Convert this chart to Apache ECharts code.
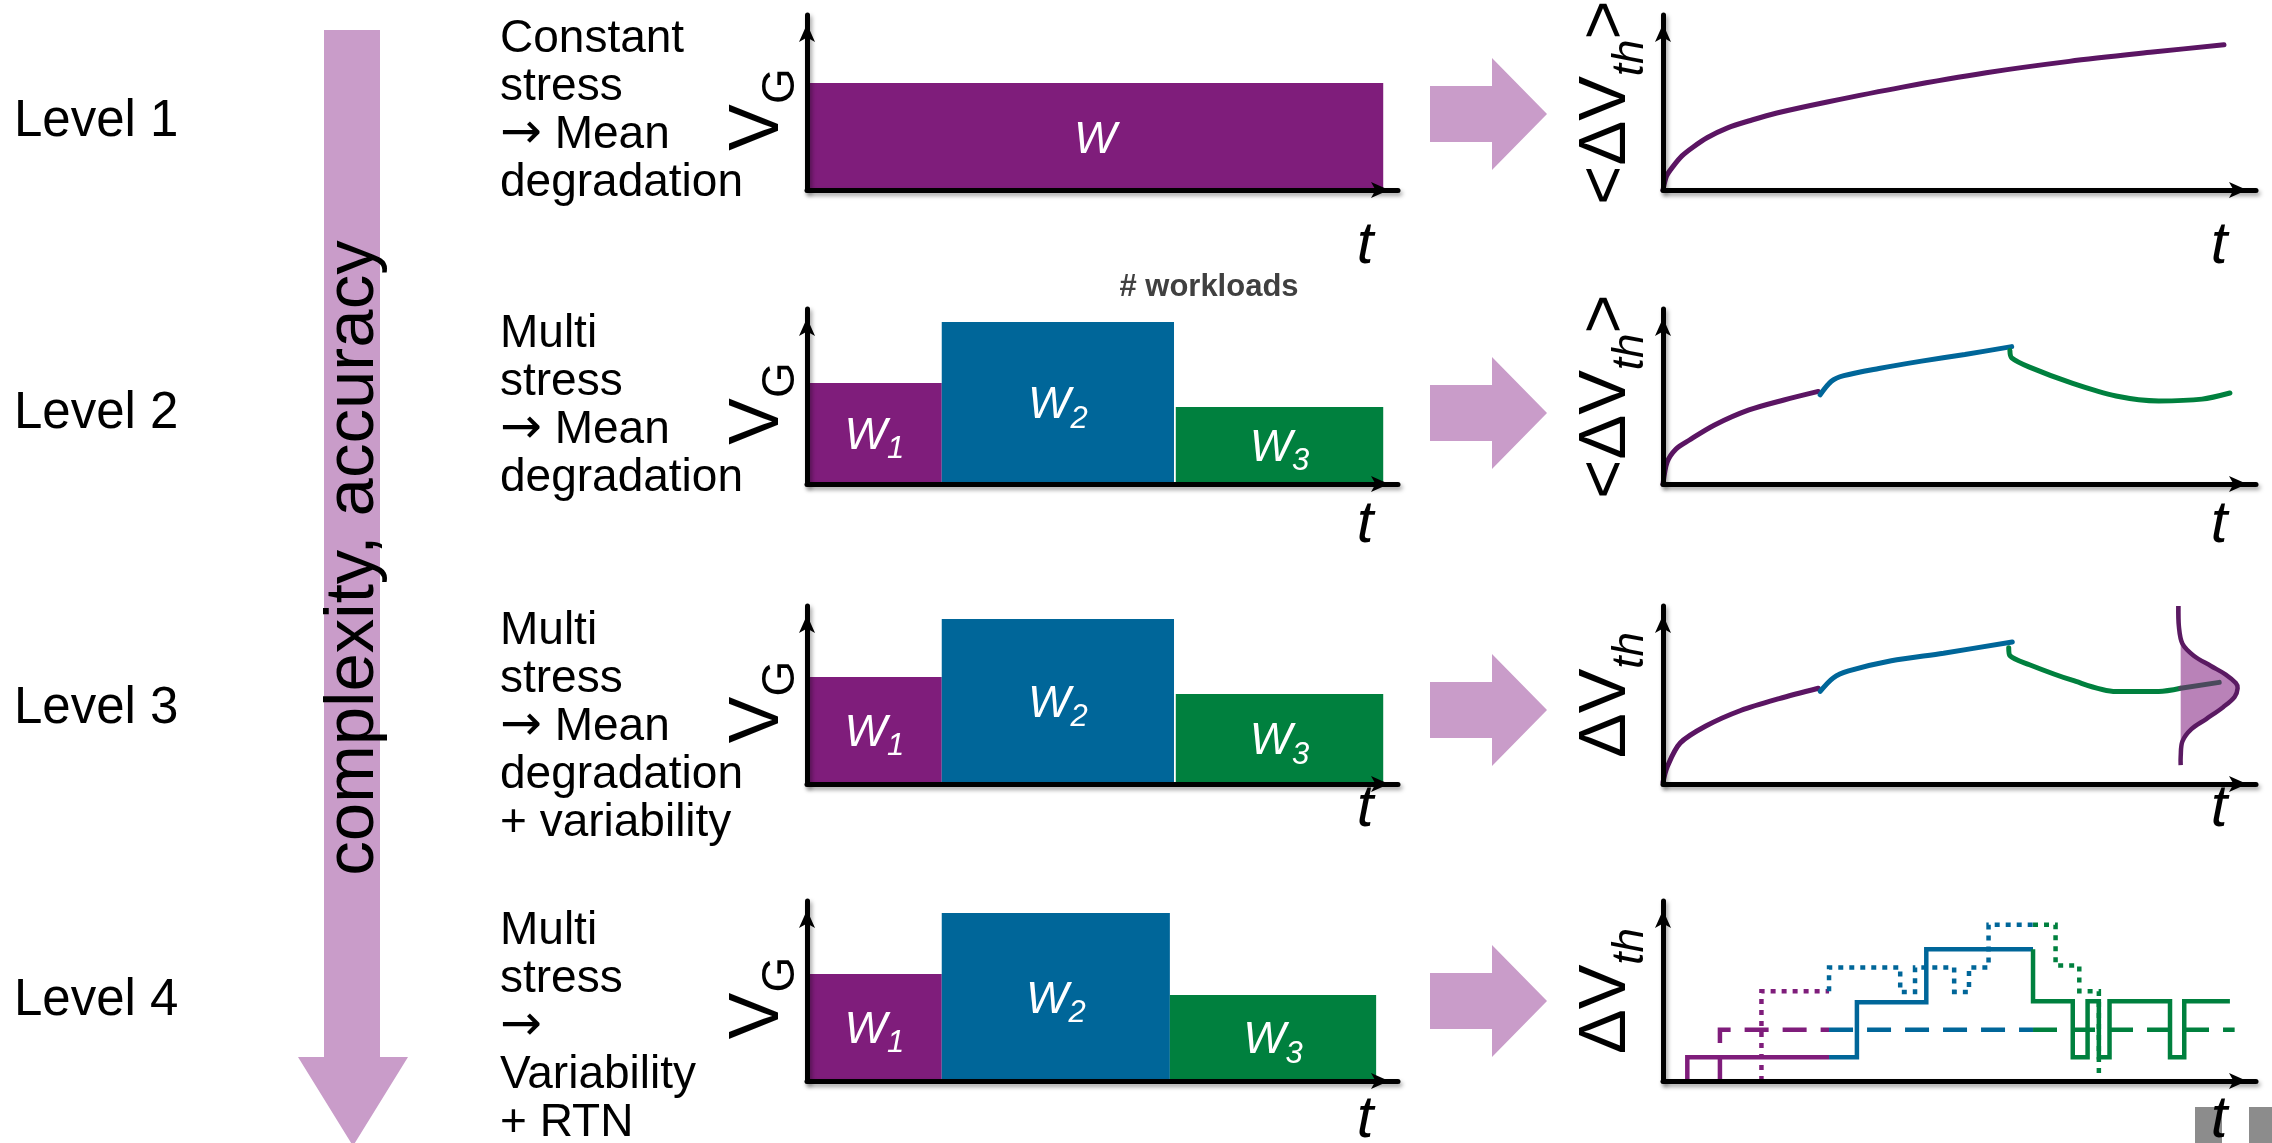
<!DOCTYPE html>
<html>
<head>
<meta charset="utf-8">
<script src="https://cdn.jsdelivr.net/npm/echarts@6/dist/echarts.min.js"></script>
<style>
html,body{margin:0;padding:0;background:#fff;}
#c{width:2272px;height:1143px;}
</style>
</head>
<body>
<div id="c"></div>
<script>
// ---------------- data ----------------
const levelLabels = ['Level 1', 'Level 2', 'Level 3', 'Level 4'];
const levelTexts = [
  ['Constant', 'stress', '\u2192 Mean', 'degradation'],
  ['Multi', 'stress', '\u2192 Mean', 'degradation'],
  ['Multi', 'stress', '\u2192 Mean', 'degradation', '+ variability'],
  ['Multi', 'stress', '\u2192', 'Variability', '+ RTN']
];
const sideLabel = 'complexity, accuracy';
const workloadNote = '# workloads';
const timeLabel = 't';

// workload stress blocks: [t start, t end, V_G]  (axis units 0..100)
const stressL1 = [[0, 97.5, 61.1]];
const stressL2 = [[0, 22.8, 57.7], [22.8, 62.1, 92.6], [62.4, 97.5, 44.0]];
const stressL3 = [[0, 22.8, 60.1], [22.8, 62.1, 92.7], [62.4, 97.5, 50.6]];
const stressL4 = [[0, 22.8, 59.4], [22.8, 61.4, 93.3], [61.4, 96.3, 47.8]];
const workloadNamesL1 = [['W', '']];
const workloadNames = [['W', '1'], ['W', '2'], ['W', '3']];

// mean degradation curves [t, dVth]
const meanL1 = [[0, 0], [0.6, 8], [1.7, 13.5], [3.2, 19.5], [5.1, 24.6], [7.5, 30], [10.8, 35.4], [15, 40], [19.2, 44], [27.7, 50.3], [40.4, 58.8], [54.5, 67], [68.5, 73.5], [82.6, 78.8], [94.6, 83]];
const meanL2w1 = [[0, 0], [0.7, 12.5], [2.2, 20], [4.4, 25], [8.7, 33.7], [14.5, 42.3], [20.4, 48], [26.2, 52.9]];
const meanL2w2 = [[26.5, 51], [28.4, 58.7], [30.5, 61.9], [36.4, 66], [43.6, 70.2], [50.9, 74], [58.8, 78.5]];
const meanL2w3 = [[58.5, 76.3], [58.8, 72.1], [61.8, 66.8], [69.1, 57.5], [76.4, 50.3], [83.6, 47.5], [90.9, 48.5], [95.6, 52]];
const meanL3w1 = [[0, 1], [0.7, 9.6], [2.9, 23], [7.3, 32.7], [13.1, 41.3], [19.6, 48], [26.2, 53.8]];
const meanL3w2 = [[26.5, 52], [28.7, 59.6], [31.3, 63.5], [38.5, 69.2], [47.3, 73.5], [58.9, 79.8]];
const meanL3w3 = [[58.3, 76.5], [58.5, 72.1], [61.8, 67], [69, 58.3], [76.4, 52], [83.6, 52], [87.3, 53.8]];
const meanL3tail = [[87.3, 53.8], [93.8, 57.1]];
// variability distribution outline [t, dVth]
const distBaseT = 87.3;
const distOutline = [[86.9, 100], [87.0, 88.5], [87.6, 78.8], [89.5, 72.1], [92.4, 66.3], [94.9, 61.5], [96.6, 56.7], [96.9, 53.8], [96.4, 49], [94.5, 43.3], [91.6, 36.5], [89.1, 30.8], [87.6, 24], [87.3, 15.4], [87.3, 10.6]];

// RTN / variability traces, step breakpoints [t, dVth]
const solidW1 = [[4.1, 0], [4.1, 13.2], [28, 13.2]];
const solidW2 = [[28, 13.2], [32.7, 43.7], [44.4, 73.2], [62.4, 73.2]];
const solidW3 = [[62.4, 73.2], [62.4, 44.3], [69.1, 13.2], [71.6, 44.3], [73.5, 13.2], [75.3, 44.3], [85.5, 13.2], [87.9, 44.3], [95.6, 44.3]];
const dashW1 = [[9.6, 0], [9.6, 28.5], [28, 28.5]];
const dashW2 = [[28, 28.5], [62.4, 28.5]];
const dashW3 = [[62.4, 28.5], [96.4, 28.5]];
const dotW1 = [[16.6, 0], [16.6, 49.9], [28, 49.9]];
const dotW2 = [[28, 49.9], [28, 63.1], [40, 49.5], [42.5, 63.1], [49.1, 49.5], [51.6, 63.1], [54.9, 86.8], [62.4, 86.8]];
const dotW3 = [[62.4, 86.8], [66.2, 64.1], [70.2, 49.9], [73.5, 0], [73.5, 0]];

// ---------------- styles ----------------
const FONT = '"Liberation Sans", Arial, Helvetica, sans-serif';
const PURPLE = '#7f1d7b', BLUE = '#006699', GREEN = '#00803e', CURVE_PURPLE = '#5b1563';
const PINK = '#c99cc9';
const stressColors = [PURPLE, BLUE, GREEN];

const rowBoxes = [
  { top: 15, bottom: 190 },
  { top: 309, bottom: 484 },
  { top: 606, bottom: 784 },
  { top: 901, bottom: 1081 }
];
const LEFT_X0 = 807, LEFT_X1 = 1398, RIGHT_X0 = 1663, RIGHT_X1 = 2256;

const grids = [], xAxes = [], yAxes = [], series = [];

function axisLine() {
  return {
    show: true, onZero: false,
    symbol: ['none', 'arrow'], symbolSize: [12, 18], symbolOffset: [0, -9],
    lineStyle: { color: '#000', width: 5, shadowColor: 'rgba(0,0,0,0.35)', shadowBlur: 4, shadowOffsetX: 2, shadowOffsetY: 3 }
  };
}

function addPanel(x0, x1, box, yName, yRich, namePad) {
  const gi = grids.length;
  grids.push({ left: x0, top: box.top, width: x1 - x0, height: box.bottom - box.top, containLabel: false, outerBoundsMode: 'none', show: false });
  xAxes.push({ gridIndex: gi, type: 'value', min: 0, max: 100, z: 10,
    axisLine: axisLine(), axisTick: { show: false }, axisLabel: { show: false }, splitLine: { show: false } });
  yAxes.push({ gridIndex: gi, type: 'value', min: 0, max: 100, z: 10,
    axisLine: axisLine(), axisTick: { show: false }, axisLabel: { show: false }, splitLine: { show: false },
    name: yName, nameLocation: 'middle', nameRotate: 90, nameGap: namePad.gap,
    nameTextStyle: { padding: namePad.padding, rich: yRich } });
  return gi;
}

const vgRich = {
  v: { fontSize: 70, fontFamily: FONT, color: '#000', lineHeight: 70, padding: [0, 0, 10, 0], verticalAlign: 'bottom' },
  s: { fontSize: 46, fontFamily: FONT, color: '#000', lineHeight: 46, verticalAlign: 'bottom' }
};
const dvRich = {
  n: { fontSize: 67, fontFamily: FONT, color: '#000', lineHeight: 67, padding: [0, 0, 13, 0], verticalAlign: 'bottom' },
  s: { fontSize: 44, fontFamily: FONT, fontStyle: 'italic', color: '#000', lineHeight: 44, verticalAlign: 'bottom' }
};

function stressSeries(gi, data, names) {
  return {
    type: 'custom', xAxisIndex: gi, yAxisIndex: gi, silent: true, z: 2,
    data: data, encode: { x: [0, 1], y: 2 },
    renderItem: function (params, api) {
      const i = params.dataIndex;
      const p0 = api.coord([api.value(0), api.value(2)]);
      const p1 = api.coord([api.value(1), 0]);
      const nm = names[i];
      const txt = nm[1] ? '{w|' + nm[0] + '}{s|' + nm[1] + '}' : '{w|' + nm[0] + '}';
      return { type: 'group', children: [
        { type: 'rect', shape: { x: p0[0], y: p0[1], width: p1[0] - p0[0], height: p1[1] - p0[1] }, style: { fill: stressColors[names.length === 1 ? 0 : i] } },
        { type: 'text', x: (p0[0] + p1[0]) / 2, y: (p0[1] + p1[1]) / 2 + (nm[1] ? 9 : 10), style: {
          text: txt, align: 'center', verticalAlign: 'middle',
          rich: {
            w: { fontSize: 45, fontStyle: 'italic', fontFamily: FONT, fill: '#fff', lineHeight: 45, padding: [0, 0, 6, 0], verticalAlign: 'bottom' },
            s: { fontSize: 31, fontStyle: 'italic', fontFamily: FONT, fill: '#fff', lineHeight: 31, verticalAlign: 'bottom' }
          } } }
      ] };
    }
  };
}

function curve(gi, data, color, width, extra) {
  return Object.assign({ type: 'line', xAxisIndex: gi, yAxisIndex: gi, data: data, showSymbol: false, symbol: 'none', silent: true, z: 3,
    smooth: 0.3, lineStyle: { color: color, width: width || 5, cap: 'round' } }, extra || {});
}
function stepLine(gi, data, color, type) {
  return { type: 'line', xAxisIndex: gi, yAxisIndex: gi, data: data, showSymbol: false, symbol: 'none', silent: true, z: 3,
    step: 'end', lineStyle: { color: color, width: 4.5, type: type, cap: 'butt', join: 'miter' } };
}

const vgPad = { gap: 3, padding: [0, 14, 0, 0] };
const dvPad = { gap: 10, padding: [0, 0, 0, 0] };
const vgName = '{v|V}{s|G}';
const dvMeanName = '{n|<\u0394V}{s|th}{n|>}';
const dvName = '{n|\u0394V}{s|th}';

// Level 1
let g = addPanel(LEFT_X0, LEFT_X1, rowBoxes[0], vgName, vgRich, vgPad);
series.push(stressSeries(g, stressL1, workloadNamesL1));
g = addPanel(RIGHT_X0, RIGHT_X1, rowBoxes[0], dvMeanName, dvRich, dvPad);
series.push(curve(g, meanL1, CURVE_PURPLE));
// Level 2
g = addPanel(LEFT_X0, LEFT_X1, rowBoxes[1], vgName, vgRich, vgPad);
series.push(stressSeries(g, stressL2, workloadNames));
g = addPanel(RIGHT_X0, RIGHT_X1, rowBoxes[1], dvMeanName, dvRich, dvPad);
series.push(curve(g, meanL2w1, CURVE_PURPLE), curve(g, meanL2w2, BLUE), curve(g, meanL2w3, GREEN));
// Level 3
g = addPanel(LEFT_X0, LEFT_X1, rowBoxes[2], vgName, vgRich, vgPad);
series.push(stressSeries(g, stressL3, workloadNames));
g = addPanel(RIGHT_X0, RIGHT_X1, rowBoxes[2], dvName, dvRich, dvPad);
series.push(curve(g, meanL3w1, CURVE_PURPLE), curve(g, meanL3w2, BLUE), curve(g, meanL3w3, GREEN));
series.push({
  type: 'custom', xAxisIndex: g, yAxisIndex: g, silent: true, z: 4,
  data: distOutline, encode: { x: 0, y: 1 },
  renderItem: function (params, api) {
    if (params.dataIndex !== 0) return null;
    const pts = distOutline.map(function (p) { return api.coord(p); });
    const fillPts = pts.concat([api.coord([distBaseT, distOutline[distOutline.length - 1][1]]), api.coord([distBaseT, distOutline[0][1]])]);
    return { type: 'group', children: [
      { type: 'polygon', shape: { points: fillPts, smooth: 0 }, style: { fill: '#b982b8' } },
      { type: 'polyline', shape: { points: pts, smooth: 0.35 }, style: { stroke: '#5a1a62', lineWidth: 4.5, fill: null } }
    ] };
  }
});
series.push(curve(g, meanL3tail, '#4a4a5c', 5, { z: 5 }));
// Level 4
g = addPanel(LEFT_X0, LEFT_X1, rowBoxes[3], vgName, vgRich, vgPad);
series.push(stressSeries(g, stressL4, workloadNames));
g = addPanel(RIGHT_X0, RIGHT_X1, rowBoxes[3], dvName, dvRich, dvPad);
series.push(
  stepLine(g, solidW1, PURPLE, 'solid'), stepLine(g, solidW2, BLUE, 'solid'), stepLine(g, solidW3, GREEN, 'solid'),
  stepLine(g, dashW1, PURPLE, [24, 14]), stepLine(g, dashW2, BLUE, [24, 14]), stepLine(g, dashW3, GREEN, [24, 14]),
  stepLine(g, dotW1, PURPLE, [5, 6]), stepLine(g, dotW2, BLUE, [5, 6]), stepLine(g, dotW3, GREEN, [5, 6])
);

// ---------------- graphic annotations ----------------
const graphic = [];
graphic.push({ type: 'polygon', silent: true, z: 1, shape: { points: [[324, 30], [380, 30], [380, 1057], [408, 1057], [353, 1146], [298, 1057], [324, 1057]] }, style: { fill: PINK } });
graphic.push({ type: 'text', silent: true, z: 2, x: 354, y: 558, rotation: Math.PI / 2,
  style: { text: sideLabel, font: '69px ' + FONT, fill: '#000', align: 'center', verticalAlign: 'middle' } });
const levelY = [122, 414, 709, 1001];
const textTops = [15, 310, 607, 907];
const arrowY = [114, 413, 710, 1001];
const blockRich = {
  t: { fontSize: 46, fontFamily: FONT, lineHeight: 48, fill: '#000' },
  a: { fontSize: 50, fontFamily: '"DejaVu Sans", sans-serif', lineHeight: 48, fill: '#000' }
};
function blockText(lines) {
  return lines.map(function (ln) {
    if (ln.charAt(0) === '\u2192') return '{a|\u2192}' + (ln.length > 1 ? '{t|' + ln.slice(1) + '}' : '');
    return '{t|' + ln + '}';
  }).join('\n');
}
for (let i = 0; i < 4; i++) {
  graphic.push({ type: 'text', silent: true, x: 14, y: levelY[i],
    style: { text: levelLabels[i], font: '51px ' + FONT, fill: '#000', align: 'left', verticalAlign: 'middle' } });
  graphic.push({ type: 'text', silent: true, x: 500, y: textTops[i],
    style: { text: blockText(levelTexts[i]), rich: blockRich, font: '46px ' + FONT, lineHeight: 48, fill: '#000', align: 'left', verticalAlign: 'top' } });
  const cy = arrowY[i];
  graphic.push({ type: 'polygon', silent: true, shape: { points: [[1430, cy - 28], [1492, cy - 28], [1492, cy - 56], [1547, cy], [1492, cy + 56], [1492, cy + 28], [1430, cy + 28]] }, style: { fill: PINK } });
}
graphic.push({ type: 'rect', silent: true, shape: { x: 2195, y: 1107, width: 27, height: 40 }, style: { fill: '#8c8c8c' } });
graphic.push({ type: 'rect', silent: true, shape: { x: 2249, y: 1107, width: 25, height: 40 }, style: { fill: '#8c8c8c' } });
const tY = [246, 525, 809, 1120];
for (let i = 0; i < 4; i++) {
  [1365, 2219].forEach(function (x) {
    graphic.push({ type: 'text', silent: true, z: 20, x: x, y: tY[i],
      style: { text: timeLabel, font: 'italic 60px ' + FONT, fill: '#000', align: 'center', verticalAlign: 'middle' } });
  });
}
graphic.push({ type: 'text', silent: true, x: 1209, y: 287,
  style: { text: workloadNote, font: 'bold 31px ' + FONT, fill: '#404040', align: 'center', verticalAlign: 'middle' } });

const chart = echarts.init(document.getElementById('c'), null, { renderer: 'canvas', width: 2272, height: 1143 });
chart.setOption({
  animation: false,
  backgroundColor: '#fff',
  grid: grids, xAxis: xAxes, yAxis: yAxes, series: series, graphic: graphic
});
</script>
</body>
</html>
